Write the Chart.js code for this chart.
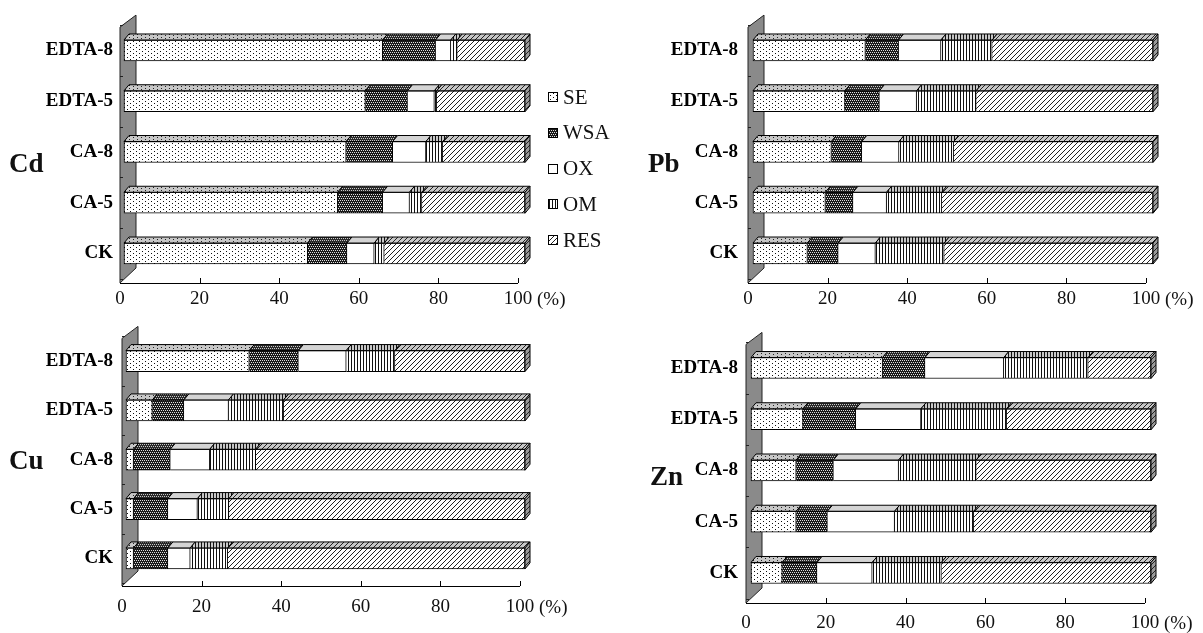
<!DOCTYPE html>
<html><head><meta charset="utf-8">
<script src="https://cdn.jsdelivr.net/npm/chart.js@4/dist/chart.umd.min.js"></script>
<style>
html,body{margin:0;padding:0;background:#fff;overflow:hidden}
#wrap{position:relative;width:1203px;height:633px;overflow:hidden}
canvas{position:absolute}
.unit{position:absolute;font:19px 'Liberation Serif','Times New Roman',serif;color:#111;line-height:20px;white-space:nowrap}
</style>
</head><body>
<div id="wrap">
<canvas id="cPb" width="603" height="316" style="left:600px;top:0"></canvas>
<canvas id="cCd" width="640" height="316" style="left:0;top:0"></canvas>
<canvas id="cCu" width="600" height="317" style="left:0;top:316px"></canvas>
<canvas id="cZn" width="603" height="317" style="left:600px;top:316px"></canvas>
</div>
<script>
const categories = ['EDTA-8', 'EDTA-5', 'CA-8', 'CA-5', 'CK'];
const fractions  = ['SE', 'WSA', 'OX', 'OM', 'RES'];
const tickValues = [0, 20, 40, 60, 80, 100];
const unitLabel = '(%)';

const cdSE  = [64.5, 60.2, 55.4, 53.3, 45.8];
const cdWSA = [13.2, 10.5, 11.6, 11.2,  9.8];
const cdOX  = [ 3.8,  6.7,  8.3,  6.7,  6.8];
const cdOM  = [ 1.6,  0.6,  4.2,  3.1,  2.5];
const cdRES = [16.9, 22.0, 20.5, 25.7, 35.1];

const pbSE  = [28.1, 23.0, 19.6, 18.1, 13.6];
const pbWSA = [ 8.3,  8.6,  7.6,  6.9,  7.7];
const pbOX  = [10.6,  9.3,  9.3,  8.4,  9.3];
const pbOM  = [12.8, 14.9, 13.7, 13.8, 17.2];
const pbRES = [40.2, 44.2, 49.8, 52.8, 52.2];

const cuSE  = [30.9,  6.6,  1.9,  1.9,  1.9];
const cuWSA = [12.3,  7.9,  9.2,  8.6,  8.6];
const cuOX  = [12.0, 11.2,  9.9,  7.4,  5.6];
const cuOM  = [12.2, 13.8, 11.5,  7.9,  9.4];
const cuRES = [32.6, 60.5, 67.5, 74.2, 74.5];

const znSE  = [32.9, 13.0, 11.3, 11.3,  7.8];
const znWSA = [10.6, 13.2,  9.3,  7.8,  8.7];
const znOX  = [19.7, 16.3, 16.3, 16.8, 13.8];
const znOM  = [21.1, 21.4, 19.4, 19.8, 17.3];
const znRES = [15.7, 36.1, 43.7, 44.3, 52.4];

function makePattern(w, h, bg, fg, pts) {
  const c = document.createElement('canvas');
  c.width = w; c.height = h;
  const x = c.getContext('2d');
  x.fillStyle = bg; x.fillRect(0, 0, w, h);
  x.fillStyle = fg;
  pts.forEach(p => x.fillRect(p[0], p[1], 1, 1));
  return x.createPattern(c, 'repeat');
}
function diag(n) { const a = []; for (let i = 0; i < n; i++) a.push([n - 1 - i, i]); return a; }
function vlines(h) { const a = []; for (let i = 0; i < h; i++) a.push([0, i]); return a; }
const meshPts = [[0,0],[2,0],[1,2],[3,2]];
const FRONT = [
  makePattern(6, 4, '#ffffff', '#111111', [[1,1],[4,3]]),
  makePattern(4, 4, '#1a1a1a', '#e0e0e0', meshPts),
  makePattern(4, 4, '#ffffff', '#ffffff', []),
  makePattern(3, 4, '#ffffff', '#111111', vlines(4)),
  makePattern(5, 5, '#ffffff', '#222222', diag(5))
];
const TOP = [
  makePattern(8, 3, '#c8c8c8', '#222222', [[1,1],[5,2]]),
  makePattern(4, 4, '#2a2a2a', '#c8c8c8', meshPts),
  makePattern(4, 4, '#d4d4d4', '#d4d4d4', []),
  makePattern(3, 4, '#c8c8c8', '#111111', vlines(4)),
  makePattern(5, 5, '#c8c8c8', '#222222', diag(5))
];
const SIDE = makePattern(5, 5, '#9a9a9a', '#222222', diag(5));

// canvas-local layout; offX/offY = canvas position on the page
const panels = [
  { id: 'cCd', name: 'Cd', series: [cdSE, cdWSA, cdOX, cdOM, cdRES], offX: 0, offY: 0,
    W: 640, H: 316, axis0: 120, axis100: 518, bar0: 124, bar100: 525,
    top: 25.1, bottom: 278.9, axisY: 283, tickPad: 9, yPad: 7,
    nameX: 9, nameY: 165, legend: { x: 548, y0: 97, dy: 35.75 } },
  { id: 'cPb', name: 'Pb', series: [pbSE, pbWSA, pbOX, pbOM, pbRES], offX: 600, offY: 0,
    W: 603, H: 316, axis0: 148, axis100: 546, bar0: 153, bar100: 553,
    top: 25.1, bottom: 278.9, axisY: 283, tickPad: 9, yPad: 10,
    nameX: 48, nameY: 165 },
  { id: 'cCu', name: 'Cu', series: [cuSE, cuWSA, cuOX, cuOM, cuRES], offX: 0, offY: 316,
    W: 600, H: 317, axis0: 122, axis100: 520, bar0: 126, bar100: 525,
    top: 10.9, bottom: 267.1, axisY: 270, tickPad: 13, yPad: 9,
    nameX: 9, nameY: 146 },
  { id: 'cZn', name: 'Zn', series: [znSE, znWSA, znOX, znOM, znRES], offX: 600, offY: 316,
    W: 603, H: 317, axis0: 146, axis100: 545, bar0: 151, bar100: 551,
    top: 26.4, bottom: 282.6, axisY: 287, tickPad: 13, yPad: 8,
    nameX: 50, nameY: 162 }
];

const DX = 5, DY = -6;
const SERIF = "'Liberation Serif', 'Times New Roman', serif";

function decorPlugin(g) {
  return {
    id: 'decor3d',
    beforeDatasetsDraw(chart) {
      const ctx = chart.ctx, ca = chart.chartArea;
      const L = g.axis0, R = g.axis0 + 16;
      ctx.save();
      ctx.beginPath();
      ctx.moveTo(L, ca.top + 2);
      ctx.lineTo(R, ca.top - 10);
      ctx.lineTo(R, g.axisY - 15);
      ctx.lineTo(L, g.axisY);
      ctx.closePath();
      ctx.fillStyle = '#8a8a8a';
      ctx.fill();
      ctx.strokeStyle = '#222';
      ctx.lineWidth = 1;
      ctx.stroke();
      ctx.beginPath();
      for (let i = 0; i <= categories.length; i++) {
        const yy = Math.round(ca.top + (ca.bottom - ca.top) * i / categories.length) + 0.5;
        ctx.moveTo(L, yy); ctx.lineTo(L + 3, yy);
      }
      ctx.stroke();
      const xt = chart.scales.xt;
      const x100 = xt.getPixelForValue(100);
      ctx.beginPath();
      ctx.moveTo(L, g.axisY + 0.5);
      ctx.lineTo(x100, g.axisY + 0.5);
      tickValues.forEach(v => {
        if (v === 0) return;
        const px = Math.round(xt.getPixelForValue(v)) + 0.5;
        ctx.moveTo(px, g.axisY);
        ctx.lineTo(px, g.axisY - 5);
      });
      ctx.strokeStyle = '#000';
      ctx.stroke();
      ctx.restore();
    },
    afterDatasetsDraw(chart) {
      const ctx = chart.ctx;
      ctx.save();
      ctx.lineWidth = 1;
      ctx.strokeStyle = '#000';
      const n = chart.data.datasets.length;
      chart.data.datasets.forEach((ds, k) => {
        const meta = chart.getDatasetMeta(k);
        meta.data.forEach(el => {
          const p = el.getProps(['x', 'y', 'base', 'height'], true);
          const x1 = Math.min(p.x, p.base), x2 = Math.max(p.x, p.base);
          const yT = p.y - p.height / 2, yB = p.y + p.height / 2;
          ctx.beginPath();
          ctx.moveTo(x1, yT);
          ctx.lineTo(x1 + DX, yT + DY);
          ctx.lineTo(x2 + DX, yT + DY);
          ctx.lineTo(x2, yT);
          ctx.closePath();
          ctx.fillStyle = TOP[k];
          ctx.fill();
          ctx.stroke();
          if (k === n - 1) {
            ctx.beginPath();
            ctx.moveTo(x2, yT);
            ctx.lineTo(x2 + DX, yT + DY);
            ctx.lineTo(x2 + DX, yB + DY);
            ctx.lineTo(x2, yB);
            ctx.closePath();
            ctx.fillStyle = SIDE;
            ctx.fill();
            ctx.stroke();
          }
        });
      });
      ctx.restore();
    },
    afterDraw(chart) {
      const ctx = chart.ctx;
      ctx.save();
      ctx.fillStyle = '#111';
      ctx.textAlign = 'left';
      ctx.textBaseline = 'middle';
      ctx.font = 'bold 27px ' + SERIF;
      ctx.fillText(g.name, g.nameX, g.nameY);
      if (g.legend) {
        ctx.font = '21px ' + SERIF;
        fractions.forEach((f, k) => {
          const y = g.legend.y0 + g.legend.dy * k;
          ctx.fillStyle = FRONT[k];
          ctx.fillRect(g.legend.x, Math.round(y - 5), 10, 10);
          ctx.strokeStyle = '#000';
          ctx.strokeRect(g.legend.x + 0.5, Math.round(y - 5) + 0.5, 9, 9);
          ctx.fillStyle = '#111';
          ctx.fillText(f, g.legend.x + 15, y + 1);
        });
      }
      ctx.restore();
    }
  };
}

const wrap = document.getElementById('wrap');
panels.forEach(g => {
  const barPx = (g.bar100 - g.bar0) / 100;
  const tickPx = (g.axis100 - g.axis0) / 100;
  const datasets = fractions.map((f, k) => ({
    label: f,
    data: g.series[k],
    backgroundColor: FRONT[k],
    borderColor: '#000',
    borderWidth: 1,
    borderSkipped: k === 0 ? false : 'left',
    barThickness: 21,
    xAxisID: 'x',
    yAxisID: 'y'
  }));
  const chart = new Chart(document.getElementById(g.id), {
    type: 'bar',
    data: { labels: categories, datasets },
    options: {
      indexAxis: 'y',
      responsive: false,
      maintainAspectRatio: false,
      animation: false,
      devicePixelRatio: 1,
      layout: { padding: { left: 0, right: g.W - g.bar100, top: g.top, bottom: 0 } },
      plugins: { legend: { display: false }, tooltip: { enabled: false } },
      scales: {
        x: {
          type: 'linear', stacked: true, display: false,
          min: -(g.bar0 - g.axis0) / barPx, max: 100
        },
        xt: {
          type: 'linear', axis: 'x', position: 'bottom',
          min: 0, max: (g.bar100 - g.axis0) / tickPx,
          grid: { display: false, drawTicks: false },
          border: { display: false },
          afterBuildTicks: s => { s.ticks = tickValues.map(v => ({ value: v })); },
          afterFit: s => { s.height = g.H - g.bottom; },
          ticks: {
            padding: g.tickPad, color: '#111', maxRotation: 0, autoSkip: false,
            font: { family: SERIF, size: 19 }
          }
        },
        y: {
          type: 'category', stacked: true, offset: true,
          grid: { display: false, drawTicks: false },
          border: { display: false },
          afterFit: s => { s.width = g.axis0; },
          ticks: {
            padding: g.yPad, color: '#000',
            font: { family: SERIF, size: 19, weight: 'bold' }
          }
        }
      }
    },
    plugins: [decorPlugin(g)]
  });
  // unit label placed next to the "100" tick of the library's axis
  const xt = chart.scales.xt;
  const span = document.createElement('div');
  span.className = 'unit';
  span.textContent = unitLabel;
  span.style.left = (g.offX + xt.getPixelForValue(100) + 19) + 'px';
  span.style.top = (g.offY + g.bottom + g.tickPad + 1) + 'px';
  wrap.appendChild(span);
});
</script>
</body></html>
